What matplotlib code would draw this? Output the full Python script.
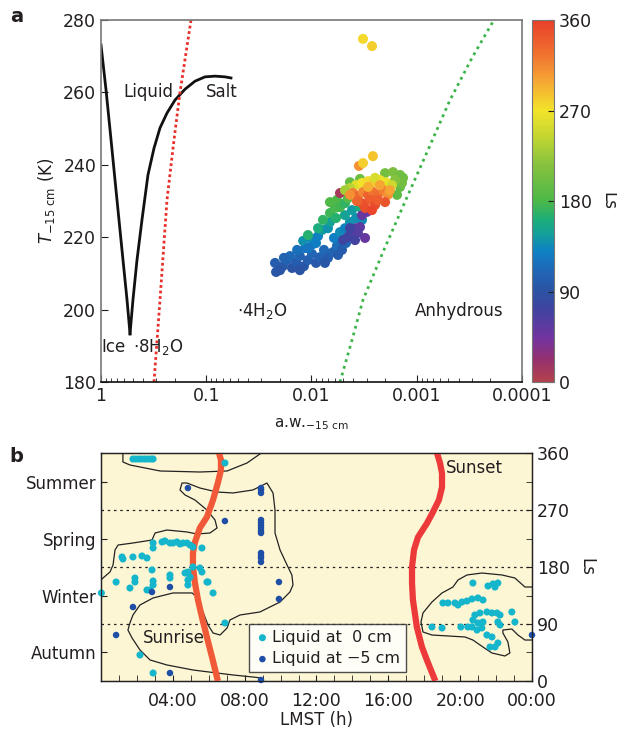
" Mars soil brine stability: phase diagram (a) and liquid occurrence vs LMST (b) "
import matplotlib
matplotlib.use("Agg")
import matplotlib.pyplot as plt
import numpy as np
from matplotlib.colors import LinearSegmentedColormap
from matplotlib.ticker import FixedLocator, NullFormatter, LogLocator, MultipleLocator

plt.rcParams.update({'font.family': 'DejaVu Sans', 'font.size': 12,
                     'text.color': '#231f20', 'axes.labelcolor': '#231f20',
                     'xtick.color': '#231f20', 'ytick.color': '#231f20'})

# ---------------- panel a data ----------------
# salt/ice liquidus (black curve), ice branch then salt branch
ice_aw = [1.0, 0.896, 0.803, 0.720, 0.632, 0.566, 0.530]
ice_T = [273.1, 260.7, 246.9, 233.0, 216.5, 202.7, 193.3]
salt_aw = [0.530, 0.497, 0.455, 0.408, 0.358, 0.3136, 0.275, 0.236, 0.198,
           0.159, 0.128, 0.1028, 0.0826, 0.0664, 0.0582]
salt_T = [193.3, 202.7, 213.7, 224.8, 237.2, 244.6, 250.2, 254.3, 257.9,
          260.9, 263.1, 264.3, 264.5, 264.3, 264.0]
# deliquescence (red dotted) and anhydrous (green dotted) boundaries
deliq_aw = [0.3136, 0.275, 0.236, 0.2025, 0.178, 0.1396]
deliq_T = [180, 202.7, 230.3, 246.9, 259.8, 280]
anhyd_aw = [0.00536, 0.00412, 0.00324, 0.00205, 0.00127, 0.000782, 0.000483,
            0.000299, 0.000185]
anhyd_T = [180, 191.6, 202.7, 216.5, 230.3, 244.1, 257.9, 269.5, 280]

# soil conditions at -15 cm, in groups, coloured by Ls
blue_aw = [0.0222, 0.0217, 0.0187, 0.0171, 0.0153, 0.0140, 0.0129, 0.0118, 0.0108,
           0.00989, 0.00906, 0.00830, 0.00761, 0.00697, 0.00625, 0.00573, 0.00513,
           0.00470, 0.0160, 0.0137, 0.0115, 0.00968, 0.0183, 0.0199, 0.0129,
           0.00745, 0.00560]
blue_T = [212.9, 210.4, 212.0, 213.7, 211.5, 213.1, 214.8, 212.0, 213.7,
          215.4, 212.9, 214.5, 216.5, 214.3, 215.9, 217.6, 216.5,
          218.4, 214.8, 216.5, 217.0, 218.1, 214.3, 210.9, 210.9,
          212.9, 215.1]
blue_Ls = [100, 95, 98, 105, 92, 100, 108, 95, 102, 110, 97, 105, 112, 100, 108,
           115, 100, 110, 112, 118, 120, 125, 108, 94, 92, 95, 100]
teal_aw = [0.0120, 0.0103, 0.00867, 0.00794, 0.00697, 0.00611, 0.00536, 0.00481,
           0.00431, 0.00378, 0.00331, 0.00667, 0.00906, 0.0108, 0.00481, 0.00412]
teal_T = [219.0, 219.8, 220.3, 222.0, 222.5, 219.8, 221.4, 222.5,
          224.2, 225.3, 224.8, 224.2, 218.4, 217.0, 226.1, 227.5]
teal_Ls = [140, 135, 130, 145, 140, 128, 135, 132, 140, 138, 135, 150, 128, 122,
           150, 145]
green_aw = [0.0108, 0.00778, 0.00667, 0.00598, 0.00667, 0.00573, 0.00536, 0.00867,
            0.00481, 0.00585, 0.00450, 0.00346, 0.00431, 0.00346, 0.00200, 0.00168,
            0.00144, 0.00135, 0.00144, 0.00154, 0.00138, 0.00161]
green_T = [220.6, 224.8, 226.7, 228.1, 229.7, 230.3, 228.3, 222.5,
           229.4, 225.3, 230.8, 228.3, 235.2, 236.1, 237.7, 238.0,
           237.2, 236.4, 233.9, 231.7, 235.0, 235.8]
green_Ls = [165, 170, 175, 178, 182, 180, 176, 160, 170, 165, 185, 160, 195, 200,
            205, 210, 205, 200, 195, 190, 205, 215]
purple_aw = [0.00378, 0.00346, 0.00310, 0.00412, 0.00502, 0.00450, 0.00297, 0.00331,
             0.00362, 0.00386, 0.00431, 0.00536]
purple_T = [222.5, 222.8, 219.8, 221.2, 219.2, 220.1, 227.0, 226.1,
            221.2, 219.2, 222.5, 232.2]
purple_Ls = [60, 55, 50, 65, 75, 70, 45, 50, 60, 70, 72, 10]
yellow_aw = [0.00378, 0.00331, 0.00290, 0.00255, 0.00224, 0.00196, 0.00172, 0.00431,
             0.00481, 0.00249]
yellow_T = [234.4, 235.0, 235.5, 235.2, 235.8, 235.2, 234.4, 233.6, 233.0, 236.4]
yellow_Ls = [260, 270, 275, 280, 270, 265, 250, 240, 230, 255]
orange_aw = [0.00403, 0.00362, 0.00324, 0.00290, 0.00261, 0.00234, 0.00209, 0.00188,
             0.00200, 0.00278, 0.00331, 0.00249, 0.00310, 0.00370, 0.00431, 0.00234,
             0.00180, 0.00266, 0.00224, 0.00290]
orange_T = [232.2, 231.4, 232.5, 231.7, 232.5, 231.7, 233.0, 231.7,
            229.7, 230.3, 229.4, 228.9, 228.1, 230.0, 231.7, 230.3,
            233.0, 227.5, 234.4, 233.9]
orange_Ls = [320, 330, 315, 335, 325, 330, 320, 310, 345, 340, 345, 350, 350, 335,
             310, 340, 300, 355, 300, 295]
outlier_aw = [0.00324, 0.00266, 0.00354, 0.00324, 0.00261]
outlier_T = [274.8, 272.8, 239.7, 240.5, 242.4]
outlier_Ls = [275, 280, 310, 280, 285]

# ---------------- panel b data ----------------
rise_Ls = [360, 349, 333, 313, 286, 259, 242, 219, 202, 180, 155, 128, 101, 69, 38, 0]
rise_h = [6.57, 6.68, 6.68, 6.51, 6.24, 5.90, 5.51, 5.23, 5.12, 5.12, 5.23, 5.40,
          5.62, 5.90, 6.18, 6.51]
set_Ls = [360, 344, 328, 306, 286, 267, 249, 227, 207, 180, 155, 128, 85, 54, 33, 0]
set_h = [18.71, 18.88, 18.99, 18.99, 18.82, 18.49, 18.15, 17.65, 17.43, 17.32,
         17.32, 17.37, 17.59, 17.87, 18.15, 18.62]

top_h = [1.22, 1.22, 1.61, 3.29, 5.51, 7.02, 8.13, 8.85, 8.91]
top_Ls = [360, 345.8, 341.1, 331.6, 330.0, 331.6, 344.2, 358.4, 360]
big_h = [0.0, 0.11, 0.50, 0.67, 0.78, 0.95, 1.78, 2.84, 3.01, 3.67, 4.79, 5.35,
         6.07, 6.46, 6.35, 5.90, 5.23, 4.68, 4.40, 4.51, 4.79, 5.51, 6.46, 7.35,
         8.46, 9.24, 9.58, 9.69, 9.69, 9.97, 10.36, 10.63, 10.69, 10.52, 9.97,
         8.85, 7.74, 7.18, 7.02, 6.63, 6.24, 5.96, 5.68, 5.40, 5.07, 4.01, 2.90,
         2.17, 1.78, 1.61, 1.50, 1.73, 2.17, 2.73, 3.67, 5.12, 6.46, 7.35, 8.46,
         8.96, 8.96]
big_Ls = [159.5, 162.6, 172.1, 183.2, 206.9, 214.7, 217.9, 222.6, 233.7, 238.4,
          235.3, 232.1, 233.7, 241.6, 254.2, 270.0, 285.8, 293.7, 301.6, 312.6,
          312.6, 304.7, 298.4, 296.9, 301.6, 312.6, 296.9, 270.0, 233.7, 206.9,
          183.2, 167.4, 151.6, 140.5, 124.7, 109.0, 104.2, 96.3, 83.7, 72.6,
          75.8, 88.4, 109.0, 131.1, 139.0, 139.0, 131.1, 120.0, 104.2, 91.6,
          80.5, 67.9, 49.0, 33.2, 25.3, 17.4, 12.6, 9.5, 6.3, 4.7, 0]
night_h = [24.0, 23.61, 23.05, 22.33, 21.21, 20.38, 19.88, 19.60, 18.99, 18.43,
           17.93, 17.82, 17.93, 18.43, 20.27, 20.71, 21.27, 21.77, 22.49, 22.77,
           22.66, 22.38, 22.38, 22.88, 23.22, 23.61, 24.0]
night_Ls = [148.4, 148.4, 162.6, 167.4, 170.5, 167.4, 159.5, 148.4, 139.0, 124.7,
            107.4, 93.2, 77.4, 72.6, 69.5, 64.7, 53.7, 44.2, 39.5, 44.2,
            61.6, 75.8, 80.5, 82.1, 72.6, 64.7, 64.7]

liq0_h = [1.78, 1.95, 2.12, 2.28, 2.45, 2.62, 2.78, 2.90, 6.90,
          2.90, 2.90, 3.40, 3.56, 3.84, 4.01, 4.23, 4.40, 4.57, 4.79, 4.96, 5.12, 5.62,
          1.17, 1.22, 1.78, 2.28, 2.56, 2.84, 4.68, 4.84, 4.96, 5.51, 5.62, 5.12,
          3.84, 3.84, 1.89, 1.89, 0.84, 2.90, 2.90, 1.61, 2.56, 2.73, 4.84, 4.84,
          5.90, 5.96, 6.24, 0.02, 6.90, 2.17, 2.90,
          20.71, 21.55, 21.83, 22.10, 21.94, 19.04, 19.32, 19.71, 20.10, 20.38,
          20.66, 20.99, 21.27, 19.88, 22.88, 23.05, 20.82, 21.10, 21.49, 21.77,
          22.05, 22.22, 20.71, 20.99, 21.27, 22.10, 22.22, 20.66, 20.94, 21.21,
          21.49, 21.77, 18.43, 18.99, 20.04, 20.43, 21.66, 21.94, 22.10]
liq0_Ls = [350.5, 350.5, 350.5, 350.5, 350.5, 350.5, 350.5, 350.5, 344.2,
           217.9, 210.0, 219.5, 221.1, 217.9, 217.9, 219.5, 216.3, 217.9, 217.9,
           214.7, 211.6, 210.0,
           195.8, 192.6, 195.8, 197.4, 194.2, 175.3, 170.5, 172.1, 164.2, 178.4,
           172.1, 180.0, 167.4, 162.6, 162.6, 156.3, 156.3, 157.9, 151.6, 146.8,
           143.7, 143.7, 159.5, 151.6, 156.3, 156.3, 139.0, 139.0, 91.6, 41.1, 12.6,
           154.7, 150.0, 153.2, 154.7, 148.4, 123.2, 123.2, 123.2, 124.7, 126.3,
           129.5, 131.1, 127.9, 120.0, 109.0, 93.2, 104.2, 107.4, 109.0, 107.4,
           107.4, 104.2, 96.3, 91.6, 93.2, 93.2, 88.4, 85.3, 80.5, 83.7,
           72.6, 69.5, 85.3, 83.7, 85.3, 85.3, 53.7, 53.7, 60.0]
liq5_h = [4.84, 6.90, 8.91, 8.91, 8.91, 8.91, 8.91, 8.91, 8.91, 8.91, 8.91,
          8.91, 8.91, 8.91, 8.91, 3.84, 2.84, 1.78, 0.84, 3.84, 9.91, 9.91,
          8.91, 24.0]
liq5_Ls = [304.7, 252.6, 304.7, 301.6, 296.9, 254.2, 250.0, 246.0, 241.6,
           237.0, 233.7, 202.1, 198.0, 194.2, 187.9, 148.4, 140.5, 116.8, 72.6,
           12.6, 156.3, 129.5, 1.6, 72.6]

hour_labels = ["04:00", "08:00", "12:00", "16:00", "20:00", "00:00"]
season_labels = ["Autumn", "Winter", "Spring", "Summer"]

ls_cmap = LinearSegmentedColormap.from_list("ls", [
    (0.0, "#b2424c"), (0.06, "#96306e"), (0.12, "#7234a0"), (0.2, "#3f44a0"),
    (0.25, "#2c52a4"), (0.31, "#1f68b6"), (0.36, "#0e80c4"), (0.41, "#14a09a"),
    (0.45, "#1eae78"), (0.5, "#4cb848"), (0.6, "#86c23e"), (0.68, "#c4d630"),
    (0.75, "#f2e42a"), (0.83, "#f6a834"), (0.91, "#f07030"), (1.0, "#e8402a")])

fig = plt.figure(figsize=(6.17, 7.31), dpi=100)

# ---------------- panel a ----------------
ax = fig.add_axes([0.1637, 0.4774, 0.6823, 0.4952])
ax.plot(ice_aw, ice_T, color="#111111", lw=2)
ax.plot(salt_aw, salt_T, color="#111111", lw=2)
ax.plot(deliq_aw, deliq_T, color="#e8302a", lw=2, ls=(0, (1, 1)))
ax.plot(anhyd_aw, anhyd_T, color="#3cb44a", lw=2, ls=(0, (1, 1.5)))
pt_aw = blue_aw + teal_aw + green_aw + purple_aw + yellow_aw + orange_aw + outlier_aw
pt_T = blue_T + teal_T + green_T + purple_T + yellow_T + orange_T + outlier_T
pt_Ls = blue_Ls + teal_Ls + green_Ls + purple_Ls + yellow_Ls + orange_Ls + outlier_Ls
sc = ax.scatter(pt_aw, pt_T, c=pt_Ls, cmap=ls_cmap, vmin=0, vmax=360, s=52,
                edgecolors="none", zorder=3)
ax.set_xscale("log")
ax.set_xlim(1, 1e-4)
ax.set_ylim(180, 280)
ax.xaxis.set_major_locator(FixedLocator([1, 0.1, 0.01, 0.001, 0.0001]))
ax.set_xticklabels(["1", "0.1", "0.01", "0.001", "0.0001"])
ax.xaxis.set_minor_locator(LogLocator(base=10, subs=np.arange(2, 10), numticks=20))
ax.xaxis.set_minor_formatter(NullFormatter())
ax.set_yticks([180, 200, 220, 240, 260, 280])
ax.tick_params(which="both", direction="in", top=False, right=False)
ax.tick_params(which="major", length=5, labelsize=12.5)
ax.tick_params(which="minor", length=3)
for side in ["top", "right", "left"]:
    ax.spines[side].set_color("#777777")
ax.spines["bottom"].set_color("#111111")
for sp in ax.spines.values():
    sp.set_linewidth(1.2)
ax.set_xlabel(r"a.w.$_{\mathrm{-15\ cm}}$", fontsize=11, labelpad=8)
ax.set_ylabel(r"$T_{\mathrm{-15\ cm}}$ (K)", fontsize=12)
ax.text(0.358, 260.1, "Liquid", ha="center", va="center", fontsize=12)
ax.text(0.0708, 260.1, "Salt", ha="center", va="center", fontsize=12)
ax.text(0.99, 189.7, "Ice", ha="left", va="center", fontsize=12)
ax.text(0.497, 189.7, r"$\cdot$8H$_2$O", ha="left", va="center", fontsize=12)
ax.text(0.051, 199.6, r"$\cdot$4H$_2$O", ha="left", va="center", fontsize=12)
ax.text(0.00104, 199.6, "Anhydrous", ha="left", va="center", fontsize=12)

cax = fig.add_axes([0.8622, 0.4774, 0.0357, 0.4952])
cb = fig.colorbar(sc, cax=cax, ticks=[0, 90, 180, 270, 360])
cb.outline.set_edgecolor("#777777")
cb.ax.tick_params(direction="in", length=4, labelsize=12.5)
cb.set_label("Ls", rotation=270, labelpad=18, fontsize=12)

fig.text(0.016, 0.978, "a", fontsize=14, fontweight="bold", va="center")
fig.text(0.016, 0.375, "b", fontsize=14, fontweight="bold", va="center")

# ---------------- panel b ----------------
bx = fig.add_axes([0.1637, 0.0684, 0.6985, 0.3119])
bx.set_facecolor("#fdf6d5")
for yl in [90, 180, 270]:
    bx.axhline(yl, color="#222222", lw=0.9, ls=(0, (2, 3)), zorder=1)
for hh, ll in [(top_h, top_Ls), (big_h, big_Ls), (night_h, night_Ls)]:
    bx.plot(hh, ll, color="#222222", lw=0.9, zorder=2)
bx.plot(rise_h, rise_Ls, color="#f05a38", lw=4.5, solid_capstyle="butt",
        solid_joinstyle="round", zorder=3)
bx.plot(set_h, set_Ls, color="#ec3a3a", lw=4.5, solid_capstyle="butt",
        solid_joinstyle="round", zorder=3)
bx.scatter(liq0_h, liq0_Ls, s=26, color="#15b6cc", edgecolors="none", zorder=4,
           clip_on=False, label="Liquid at  0 cm")
bx.scatter(liq5_h, liq5_Ls, s=22, color="#1f4ea6", edgecolors="none", zorder=4,
           clip_on=False, label="Liquid at \u22125 cm")
bx.text(4.06, 67.9, "Sunrise", ha="center", va="center", fontsize=12)
bx.text(20.77, 336, "Sunset", ha="center", va="center", fontsize=12)
bx.set_xlim(0, 24)
bx.set_ylim(0, 360)
bx.xaxis.set_major_locator(FixedLocator([4, 8, 12, 16, 20, 24]))
bx.set_xticklabels(hour_labels)
bx.xaxis.set_minor_locator(MultipleLocator(1))
bx.set_yticks([45, 135, 225, 315])
bx.set_yticklabels(season_labels)
bx.tick_params(which="both", direction="in", length=4, labelsize=12)
bx.tick_params(axis="x", labelsize=12.5, pad=8)
bx.set_xlabel("LMST (h)", fontsize=12, labelpad=1)
for sp in bx.spines.values():
    sp.set_color("#222222")
    sp.set_linewidth(1.0)
leg = bx.legend(loc="lower left", bbox_to_anchor=(0.343, 0.04), frameon=True,
                fancybox=False, handletextpad=0.1, borderpad=0.35,
                labelspacing=0.4, fontsize=11.5, markerscale=1.0,
                handlelength=1.0, borderaxespad=0)
leg.get_frame().set_edgecolor("#222222")
leg.get_frame().set_linewidth(1.0)
leg.set_zorder(6)

rx = bx.twinx()
rx.set_ylim(0, 360)
rx.set_yticks([0, 90, 180, 270, 360])
rx.yaxis.set_minor_locator(MultipleLocator(45))
rx.tick_params(which="both", direction="in", length=4, labelsize=12.5)
rx.set_ylabel("Ls", rotation=270, labelpad=18, fontsize=12)
for sp in rx.spines.values():
    sp.set_color("#222222")

fig.savefig("out.png", dpi=100)
